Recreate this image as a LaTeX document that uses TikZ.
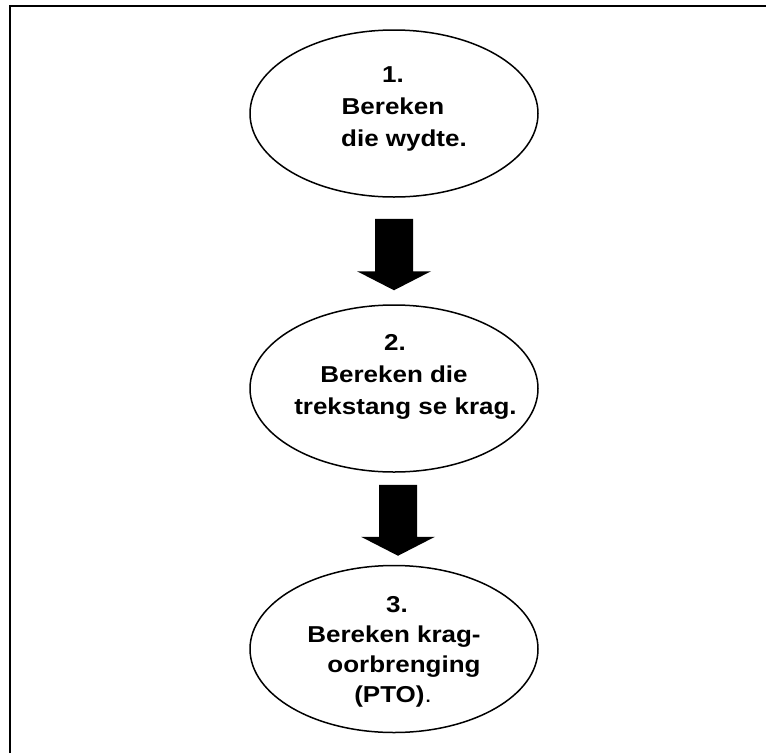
\documentclass[tikz,border=0pt]{standalone}
\usepackage{fontspec}
\setmainfont{Liberation Sans}[FakeStretch=1.13]
\usetikzlibrary{shapes.geometric,calc}
\newcommand\tline[2]{\makebox[0pt]{\hspace*{#1}#2}}
\tikzset{
  stepellipse/.style={ellipse, draw=black, line width=1.5pt, minimum width=288pt, minimum height=167pt, inner sep=0pt},
  steptext/.style={anchor=north, align=center, inner sep=0pt, font=\fontsize{23pt}{32pt}\selectfont\bfseries},
  blockarrow/.style={fill=black, draw=none, to path={let \p1=(\tikztostart), \p2=(\tikztotarget) in
    (\x1-19pt,\y1) -- (\x1+19pt,\y1) -- (\x1+19pt,\y2+19pt) -- (\x1+37pt,\y2+19pt) -- (\x2,\y2)
    -- (\x1-37pt,\y2+19pt) -- (\x1-19pt,\y2+19pt) -- cycle}},
  frame/.style={line width=1.7pt, draw=black}
}
\begin{document}
\begin{tikzpicture}[x=1pt,y=-1pt]
\useasboundingbox (0,0) rectangle (766,753);
\draw[frame] (9.7,753) -- (9.7,6) -- (766,6);
\node[stepellipse] (e1) at (394,113.5) {};
\node[stepellipse] (e2) at (394,388.5) {};
\node[stepellipse] (e3) at (394,649) {};
\node[steptext] (t1) at (394,66.8) {\tline{-2pt}{1.}\\ \tline{-2pt}{Bereken}\\ \tline{20pt}{die wydte.}};
\node[steptext] (t2) at (394,334) {\tline{2pt}{2.}\\ \tline{0pt}{Bereken die}\\ \tline{23pt}{trekstang se krag.}};
\node[steptext, font=\fontsize{23pt}{30pt}\selectfont\bfseries] (t3) at (394,596) {\tline{6pt}{3.}\\ \tline{0pt}{Bereken krag-}\\ \tline{20pt}{oorbrenging}\\ \tline{-2pt}{(PTO)\mdseries.}};
\fill[blockarrow] ([yshift=-21pt]e1.south) to ([yshift=14pt]e2.north);
\fill[blockarrow] ([xshift=4pt,yshift=-12pt]e2.south) to ([xshift=4pt,yshift=9pt]e3.north);
\end{tikzpicture}
\end{document}
